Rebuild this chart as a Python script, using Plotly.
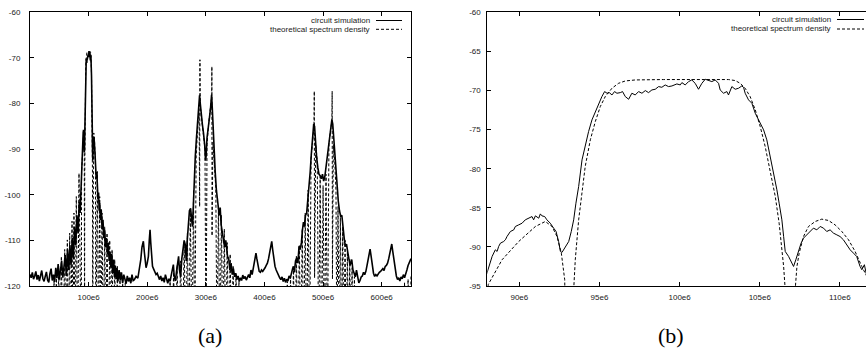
import plotly.graph_objects as go

# ---------------- data (frequency in MHz, level in dB) ----------------
# circuit simulation, 0 - 88 MHz
sim_low = [(0, -117.5), (2, -118.2), (4, -117.0), (6, -118.5), (8, -117.8), (10, -116.8), (12, -118.6),
           (14, -117.6), (16, -118.9), (18, -117.2), (20, -116.6), (22, -118.4), (24, -119.0), (26, -117.9),
           (28, -116.9), (30, -118.7), (32, -119.2), (34, -117.3), (36, -116.2), (38, -118.8), (40, -117.5),
           (42, -119.1), (44, -116.0), (46, -118.3), (48, -115.2), (50, -118.6), (52, -116.4), (54, -114.5),
           (56, -118.2), (58, -115.0), (60, -113.2), (62, -117.8), (64, -112.0), (66, -116.5), (68, -111.0),
           (70, -115.5), (72, -109.5), (74, -114.0), (76, -107.0), (78, -111.0), (80, -104.5), (82, -108.5),
           (84, -101.5), (85.5, -104.0), (86.8, -99.5), (87.5, -96.5)]
# circuit simulation, 88 - 111.7 MHz (main lobe)
sim_main = [(87.98, -93.35), (88.09, -92.5), (88.30, -91.22), (88.50, -90.37), (88.61, -90.58), (88.71, -89.94),
            (88.82, -89.52), (89.02, -89.31), (89.13, -89.09), (89.23, -88.67), (89.44, -88.03), (89.65, -87.82),
            (89.75, -87.39), (89.96, -87.18), (90.17, -86.97), (90.37, -86.54), (90.58, -86.33), (90.79, -86.12),
            (90.89, -86.54), (91.00, -86.03), (91.21, -86.33), (91.31, -85.78), (91.41, -86.03), (91.58, -86.12),
            (91.72, -86.54), (91.93, -86.97), (92.14, -87.6), (92.29, -88.03), (92.45, -89.31), (92.56, -90.58),
            (92.66, -90.71), (92.87, -89.94), (93.08, -89.31), (93.24, -88.03), (93.39, -86.54), (93.53, -84.41),
            (93.70, -82.28), (93.91, -78.87), (94.11, -76.96), (94.32, -75.25), (94.53, -73.76), (94.74, -72.70),
            (94.95, -71.63), (95.15, -70.78), (95.32, -70.14), (95.47, -70.35), (95.61, -70.27), (95.78, -70.57),
            (95.94, -70.14), (96.09, -70.35), (96.30, -70.27), (96.44, -70.14), (96.61, -70.78), (96.82, -71.12),
            (97.02, -70.35), (97.23, -70.57), (97.44, -70.14), (97.65, -70.35), (97.86, -70.01), (98.06, -70.27),
            (98.27, -69.93), (98.48, -69.84), (98.69, -69.5), (98.89, -69.59), (99.10, -69.29), (99.31, -69.5),
            (99.52, -69.42), (99.83, -69.16), (100.04, -69.29), (100.14, -68.99), (100.35, -69.29), (100.56, -68.86),
            (100.76, -68.65), (100.97, -69.08), (101.18, -69.84), (101.39, -69.08), (101.60, -68.56), (101.80, -68.73),
            (102.01, -68.86), (102.22, -68.65), (102.43, -69.08), (102.53, -69.93), (102.74, -70.35), (102.95, -70.14),
            (103.05, -70.57), (103.26, -69.5), (103.47, -69.84), (103.68, -69.71), (103.88, -69.42), (103.99, -69.59),
            (104.09, -70.35), (104.30, -71.2), (104.51, -71.63), (104.72, -72.91), (104.92, -73.76), (105.09, -74.61),
            (105.24, -75.03), (105.44, -76.31), (105.65, -78.44), (105.86, -80.14), (106.07, -82.7), (106.21, -84.41),
            (106.38, -86.54), (106.49, -88.67), (106.59, -90.58), (106.80, -91.22), (107.00, -92.07), (107.11, -92.5),
            (107.25, -91.65), (107.42, -90.37), (107.58, -89.52), (107.73, -88.88), (107.94, -88.46), (108.14, -88.03),
            (108.35, -87.6), (108.56, -87.82), (108.77, -87.39), (108.98, -87.6), (109.18, -88.03), (109.39, -87.82),
            (109.60, -88.24), (109.81, -88.46), (110.01, -88.67), (110.22, -89.09), (110.43, -89.73), (110.64, -90.37),
            (110.85, -90.8), (111.05, -91.22), (111.26, -92.5), (111.37, -92.92), (111.53, -92.28), (111.68, -93.77)]
# circuit simulation, 112 - 650 MHz
sim_high = [(112.2, -94.5), (113, -96.5), (114, -95.0), (115, -99.0), (116, -101.0), (117, -99.5), (118, -103.5),
            (119, -101.8), (120, -105.5), (121.5, -103.2), (123, -107.5), (124.5, -105.5), (126, -109.5),
            (127.5, -107.8), (129, -111.5), (130.5, -109.5), (132, -113.0), (133.5, -110.5), (135, -114.5),
            (136.5, -112.5), (138, -116.0), (139.5, -113.0), (141, -117.2), (142.5, -114.2), (144, -118.0),
            (145.5, -115.5), (147, -118.5), (148.5, -116.0), (150, -119.0), (152, -116.5), (154, -118.8),
            (156, -117.0), (158, -119.3), (160, -117.5), (162, -118.6), (164, -119.5), (166, -117.8), (168, -119.0),
            (170, -118.2), (172, -119.4), (174, -117.5), (176, -118.8), (178, -118.6), (181, -117.9), (184, -118.3),
            (187, -116.0), (189, -114.2), (191, -111.5), (193.4, -110.2), (195, -112.5), (196.5, -115.0),
            (198, -116.0), (200, -115.0), (202, -113.5), (203.5, -110.0), (204.8, -107.7), (206, -110.5),
            (207.5, -114.0), (209, -115.7), (211, -116.3), (213, -117.0), (215, -117.5), (217, -117.2), (219, -118.0),
            (221, -118.6), (223, -117.8), (225, -118.9), (227, -118.2), (229, -119.2), (231, -117.5), (233, -118.8),
            (235, -119.4), (237, -118.4), (239, -119.0), (241, -117.6), (243, -116.2), (244.6, -115.3), (246, -117.8),
            (248, -118.9), (250, -116.8), (252, -115.0), (253.5, -113.5), (255, -116.5), (257, -118.0), (259, -114.0),
            (261, -111.5), (263, -110.0), (265, -111.0), (266.5, -114.5), (268, -110.5), (270, -106.5), (272, -103.5),
            (274, -103.0), (275.5, -104.5), (277, -107.0), (278.5, -103.0), (280, -97.0), (282, -91.5), (284, -87.5),
            (286, -84.0), (288, -80.5), (289.3, -78.2), (290.5, -80.0), (292, -83.0), (294, -84.5), (296, -86.5),
            (298, -89.0), (299.5, -92.5), (300.5, -91.5), (302, -87.5), (304, -84.5), (306, -83.3), (308, -81.0),
            (309.8, -78.1), (311, -81.0), (312.5, -86.0), (314, -91.0), (316, -95.0), (318, -99.0), (320, -102.0),
            (321.5, -103.0), (323, -104.5), (324.5, -102.8), (326, -106.5), (328, -108.0), (330, -110.0),
            (332, -111.5), (334, -110.0), (335.5, -111.5), (337, -113.5), (339, -114.0), (341, -116.5), (343, -115.0),
            (345, -117.5), (347, -116.2), (349, -118.0), (351, -117.2), (353, -118.6), (355, -117.8), (357, -119.0),
            (359, -118.2), (361, -118.8), (363, -117.6), (365, -118.4), (367, -117.9), (369, -118.7), (371, -118.1),
            (373, -117.5), (375, -118.2), (377, -116.5), (379, -117.5), (381, -116.0), (383, -114.5), (385.5, -112.8),
            (387, -114.0), (389, -116.0), (391, -116.8), (393, -117.0), (395, -116.5), (397, -116.8), (399, -116.2),
            (401, -116.0), (403, -115.5), (405, -115.0), (407, -114.0), (409, -112.5), (411, -111.0), (412.4, -110.2),
            (414, -112.0), (416, -114.5), (418, -115.7), (420, -116.5), (422, -117.2), (424, -117.8), (426, -118.2),
            (428, -118.6), (430, -118.0), (432, -119.0), (434, -118.3), (436, -119.2), (438, -118.5), (440, -118.9),
            (442, -117.8), (444, -118.3), (446, -117.0), (448, -116.2), (449.4, -115.7), (451, -117.0), (453, -114.5),
            (455, -113.8), (457, -115.0), (459, -111.3), (461, -112.0), (463, -110.5), (465, -107.5), (466.5, -106.0),
            (468, -107.0), (470, -104.5), (472, -104.0), (474, -101.5), (476, -98.0), (478, -95.0), (480, -91.0),
            (482, -87.0), (484, -84.5), (485.5, -85.0), (487, -88.5), (489, -91.8), (491, -94.0), (493, -95.5),
            (495, -95.8), (497, -96.5), (499, -95.5), (501, -97.0), (503, -96.0), (505, -94.0), (507, -91.5),
            (509, -89.0), (511, -87.0), (513, -85.0), (515, -83.5), (516.5, -84.5), (518, -87.5), (520, -91.0),
            (522, -95.5), (524, -99.0), (526, -101.5), (528, -103.5), (530, -104.7), (532, -104.5), (534, -107.5),
            (536, -109.5), (538, -111.3), (540, -110.8), (542, -112.5), (544, -114.2), (546, -115.5), (548.9, -114.2),
            (551, -116.5), (553, -117.2), (555, -118.0), (557, -116.5), (559, -118.0), (561, -119.3), (563, -118.8),
            (565, -118.0), (567, -117.8), (569, -117.0), (571, -117.5), (573, -116.8), (575, -115.5), (577, -114.2),
            (578.5, -112.5), (580.2, -111.9), (582, -113.5), (584, -116.0), (586, -117.2), (588, -117.9), (590, -117.5),
            (592, -117.8), (594, -117.3), (596, -117.0), (598, -116.8), (600, -116.5), (602, -116.2), (604, -116.6),
            (606, -115.7), (608, -115.5), (610, -115.0), (612, -114.0), (614, -112.5), (615.5, -111.3),
            (617.2, -110.8), (619, -112.5), (621, -114.5), (623, -116.5), (625, -117.8), (627, -118.6), (629, -118.2),
            (631, -118.9), (633, -118.0), (635, -118.4), (637, -117.5), (639, -118.2), (641, -117.0), (643, -116.5),
            (645, -115.5), (647, -114.8), (649, -114.2), (650, -114.0)]

# theoretical spectrum density (values below the axes are the nulls)
theo_low = [(0, -135), (39.0, -135), (41.0, -118.6), (43.0, -135), (45.0, -117.2), (47.0, -135), (48.9, -115.7),
            (51.2, -135), (53.5, -113.5), (56.3, -135), (59.2, -112.0), (61.5, -135), (63.7, -109.9), (65.7, -135),
            (67.7, -108.4), (69.7, -135), (71.7, -105.8), (73.4, -135), (75.0, -104.0), (77.0, -135), (79.0, -100.4),
            (81.3, -135), (83.6, -95.3), (87.4, -135)]
theo_main = [(88.05, -94.84), (88.92, -91.65), (89.96, -89.31), (91.00, -87.39), (91.62, -86.75), (92.04, -87.39),
             (92.35, -88.67), (92.62, -90.8), (92.83, -94.2), (93.12, -135), (93.39, -95.5), (93.49, -91.65),
             (93.70, -86.54), (93.91, -83.13), (94.11, -79.72), (94.43, -76.3), (94.74, -73.97), (95.05, -72.06),
             (95.36, -70.78), (95.78, -69.71), (96.19, -69.08), (96.61, -68.78), (97.23, -68.65), (99.0, -68.6),
             (101.0, -68.6), (103.05, -68.6), (103.47, -68.73), (103.78, -69.08), (104.09, -69.71), (104.40, -70.78),
             (104.72, -72.48), (105.03, -74.61), (105.34, -77.17), (105.65, -80.14), (105.97, -83.56),
             (106.21, -86.97), (106.38, -89.94), (106.49, -92.5), (106.59, -95.5), (106.9, -135), (107.21, -95.5),
             (107.32, -92.5), (107.46, -90.8), (107.73, -88.67), (108.04, -87.39), (108.46, -86.75), (108.87, -86.45),
             (109.29, -86.62), (109.70, -87.18), (110.12, -88.03), (110.54, -89.09), (110.95, -90.58),
             (111.37, -92.5), (111.68, -93.77)]
theo_high = [(112.3, -135), (114.9, -94.9), (117.0, -135), (118.9, -100.4), (121.0, -135), (122.9, -104.0),
             (125.2, -135), (127.4, -107.0), (129.4, -135), (131.4, -108.4), (133.7, -135), (136.0, -110.0),
             (138.0, -135), (140.0, -112.0), (142.3, -135), (144.5, -114.2), (146.8, -135), (149.0, -115.7),
             (151.3, -135), (153.5, -117.0), (155.8, -135), (158.0, -118.3), (160.3, -135), (162.5, -119.3),
             (164.8, -135), (236, -135), (239, -119), (242, -135), (245, -117), (248, -135), (251, -115.5), (254, -135),
             (257, -114.5), (260, -135), (263, -110.5), (266, -135), (268.5, -108.5), (271, -135), (273.5, -103.3),
             (276.5, -135), (279, -99), (281, -135), (283.5, -91.5), (286.5, -84.5), (288.5, -82), (289.4, -102.6),
             (289.9, -70.4), (290.4, -80.5), (293, -83.5), (296, -86.5), (298.5, -90), (300.3, -135), (302, -89),
             (305, -84), (308, -81), (310.0, -78.5), (310.3, -71.9), (310.6, -109), (312, -88.5), (314.5, -93),
             (317, -98.5), (319, -135), (321.5, -102.5), (324, -135), (326.5, -104.5), (329, -135), (331.5, -107.5),
             (334, -135), (336.5, -110.5), (339, -135), (341.5, -113), (344, -135), (346.5, -115.5), (349, -135),
             (351.5, -117.5), (354, -135), (356.5, -119), (359, -135), (436, -135), (439, -119), (442, -135),
             (444.5, -118), (447, -135), (449.5, -116), (452, -135), (454.5, -113.5), (457, -135), (459.5, -111),
             (462, -135), (464.5, -107.5), (467, -135), (469.5, -104), (472, -135), (474.5, -99), (477, -135),
             (479.5, -92), (482.5, -87), (484.5, -85), (485.0, -77.3), (485.5, -118.2), (487.5, -89), (490, -92.5),
             (492.5, -135), (495, -96), (497.5, -135), (500, -98), (502.5, -135), (505, -95.5), (507.5, -135),
             (510, -89), (513, -85.5), (515.0, -84), (515.5, -77.3), (516.0, -118.5), (517.5, -89), (520, -93),
             (522, -99), (523.5, -135), (525.5, -102.6), (527.5, -135), (529.5, -105), (531.5, -135), (533.5, -107),
             (535.5, -135), (537.5, -110), (539.5, -135), (541.5, -112.5), (543.5, -135), (545.5, -114.2),
             (547.5, -135), (549.5, -116), (551.5, -135), (553.5, -118), (555.5, -135), (636, -135), (639, -119.3),
             (642, -135), (645, -118.5), (648, -135), (650, -117.5)]

legend_names = ["circuit simulation", "theoretical spectrum density"]
left_xticks = [100, 200, 300, 400, 500, 600]
left_xlabels = ["100e6", "200e6", "300e6", "400e6", "500e6", "600e6"]
left_yticks = [-60, -70, -80, -90, -100, -110, -120]
right_xticks = [90, 95, 100, 105, 110]
right_xlabels = ["90e6", "95e6", "100e6", "105e6", "110e6"]
right_yticks = [-60, -65, -70, -75, -80, -85, -90, -95]
panel_labels = ["(a)", "(b)"]

# ---------------- build ----------------
sim = sim_low + sim_main + sim_high
theo = theo_low + theo_main + theo_high
sim_x = [p[0] for p in sim]
sim_y = [p[1] for p in sim]
theo_x = [p[0] for p in theo]
theo_y = [p[1] for p in theo]

W, H = 866, 354
def px(x):
    return x / W
def py(y):
    return 1 - y / H

FONT = "Liberation Sans, Arial, sans-serif"
fig = go.Figure()
for xa, ya, w in (("x", "y", 1.6), ("x2", "y2", 1.0)):
    fig.add_trace(go.Scatter(x=sim_x, y=sim_y, mode="lines", xaxis=xa, yaxis=ya, showlegend=False,
                             line=dict(color="black", width=w)))
    fig.add_trace(go.Scatter(x=theo_x, y=theo_y, mode="lines", xaxis=xa, yaxis=ya, showlegend=False,
                             line=dict(color="black", width=1, dash="3px,2px")))

axis_common = dict(showgrid=False, zeroline=False, showline=True, linecolor="black", linewidth=1,
                   ticks="inside", ticklen=4, tickcolor="black", tickwidth=1,
                   tickfont=dict(family=FONT, size=8, color="#222"), automargin=False)
ydom = [py(286), py(12.3)]
fig.update_layout(
    width=W, height=H, margin=dict(l=0, r=0, t=0, b=0), template="none",
    paper_bgcolor="white", plot_bgcolor="white", showlegend=False,
    xaxis=dict(axis_common, domain=[px(30), px(411)], range=[0, 650], anchor="y", mirror="ticks",
               tickvals=left_xticks, ticktext=left_xlabels, ticklabelstandoff=3),
    yaxis=dict(axis_common, domain=ydom, range=[-120, -60], anchor="x", mirror="ticks",
               tickvals=left_yticks, ticktext=[str(v) for v in left_yticks], ticklabelstandoff=7),
    xaxis2=dict(axis_common, domain=[px(487.3), 1.0], range=[88, 111.63], anchor="y2", mirror="ticks",
                tickvals=right_xticks, ticktext=right_xlabels, ticklabelstandoff=3),
    yaxis2=dict(axis_common, domain=ydom, range=[-95, -60], anchor="x2", mirror=False,
                tickvals=right_yticks, ticktext=[str(v) for v in right_yticks], ticklabelstandoff=4),
)

# legends (text right-aligned, sample line after text, gnuplot style)
for (text_end, s0, s1, rows) in ((372, 376, 402, (20.5, 29.3)), (833, 837, 864, (19.5, 29.0))):
    for name, row, dash in zip(legend_names, rows, ("solid", "3px,2px")):
        fig.add_annotation(x=px(text_end), y=py(row), xref="paper", yref="paper", text=name,
                           showarrow=False, xanchor="right", yanchor="middle",
                           font=dict(family=FONT, size=8, color="#222"))
        fig.add_shape(type="line", xref="paper", yref="paper", x0=px(s0), x1=px(s1), y0=py(row), y1=py(row),
                      line=dict(color="black", width=1, dash=dash))

for lab, cx in zip(panel_labels, (210, 671)):
    fig.add_annotation(x=px(cx), y=py(335), xref="paper", yref="paper", text=lab, showarrow=False,
                       xanchor="center", yanchor="middle",
                       font=dict(family="Liberation Serif, serif", size=22, color="black"))

fig.write_html("out.html")
